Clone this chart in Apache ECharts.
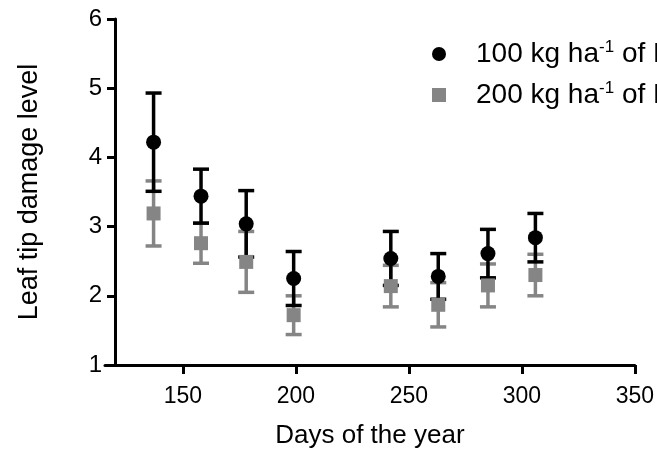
<!DOCTYPE html>
<html>
<head>
<meta charset="utf-8">
<script src="https://cdn.jsdelivr.net/npm/echarts@6.0.0/dist/echarts.min.js"></script>
<style>
  html, body { margin: 0; padding: 0; background: #fff; }
  #chart { width: 657px; height: 455px; }
</style>
</head>
<body>
<div id="chart"></div>
<script>
// days of the year
var days = [137, 158, 178, 199, 242, 263, 285, 306];
// 100 kg ha-1 of N : mean and error
var mean100 = [4.22, 3.44, 3.04, 2.25, 2.54, 2.28, 2.61, 2.84];
var err100 = [0.71, 0.39, 0.48, 0.39, 0.39, 0.33, 0.35, 0.35];
// 200 kg ha-1 of N : mean and error
var mean200 = [3.19, 2.76, 2.49, 1.72, 2.14, 1.87, 2.15, 2.30];
var err200 = [0.47, 0.29, 0.44, 0.28, 0.30, 0.32, 0.31, 0.30];
var xTicks = [150, 200, 250, 300, 350];

var FONT = "'Liberation Sans', Arial, sans-serif";
var BLACK = '#000000';
var GREY = '#858585';

function pts(m) {
  return days.map(function (d, i) { return [d, m[i]]; });
}
function bars(m, e) {
  return days.map(function (d, i) { return [d, m[i] - e[i], m[i] + e[i]]; });
}

// error bar: vertical line with caps
function errorBar(color) {
  return function (params, api) {
    var lo = api.coord([api.value(0), api.value(1)]);
    var hi = api.coord([api.value(0), api.value(2)]);
    var w = 8;
    var st = { stroke: color, lineWidth: 3.5 };
    return {
      type: 'group',
      children: [
        { type: 'line', shape: { x1: lo[0], y1: lo[1], x2: hi[0], y2: hi[1] }, style: st },
        { type: 'line', shape: { x1: lo[0] - w, y1: lo[1], x2: lo[0] + w, y2: lo[1] }, style: st },
        { type: 'line', shape: { x1: hi[0] - w, y1: hi[1], x2: hi[0] + w, y2: hi[1] }, style: st }
      ]
    };
  };
}

var chart = echarts.init(document.getElementById('chart'));

var legendRich = {
  p: { width: 25 },
  t: { fontFamily: FONT, fontSize: 28, color: '#000', lineHeight: 30 },
  s: { fontFamily: FONT, fontSize: 17, color: '#000', lineHeight: 17, verticalAlign: 'top' }
};

chart.setOption({
  animation: false,
  textStyle: { fontFamily: FONT },
  grid: { left: 105, right: 22, top: 19, bottom: 90 },
  legend: {
    orient: 'vertical',
    left: 427,
    top: 34,
    itemWidth: 14,
    itemHeight: 14,
    itemGap: 12,
    data: [
      { name: 'n100', icon: 'circle' },
      { name: 'n200', icon: 'rect' }
    ],
    formatter: function (name) {
      var v = name === 'n100' ? '100' : '200';
      return '{p|}{t|' + v + ' kg ha}{s|-1}{t| of N}';
    },
    textStyle: { rich: legendRich }
  },
  xAxis: {
    type: 'value',
    min: 115.5,
    max: 350,
    name: 'Days of the year',
    nameLocation: 'middle',
    nameGap: 58,
    nameTextStyle: { fontFamily: FONT, fontSize: 26, color: '#000' },
    splitLine: { show: false },
    axisLine: { lineStyle: { color: '#000', width: 3 } },
    axisTick: { length: 9, lineStyle: { color: '#000', width: 3 }, customValues: xTicks },
    axisLabel: { fontFamily: FONT, fontSize: 23, color: '#000', margin: 20, customValues: xTicks }
  },
  yAxis: {
    type: 'value',
    min: 1,
    max: 6,
    interval: 1,
    offset: -10,
    name: 'Leaf tip damage level',
    nameLocation: 'middle',
    nameRotate: 90,
    nameGap: 72,
    nameTextStyle: { fontFamily: FONT, fontSize: 27, color: '#000' },
    splitLine: { show: false },
    axisLine: { show: true, lineStyle: { color: '#000', width: 3 } },
    axisTick: { show: true, length: 8, lineStyle: { color: '#000', width: 3 } },
    axisLabel: { fontFamily: FONT, fontSize: 24, color: '#000', margin: 13 }
  },
  series: [
    {
      type: 'custom',
      name: 'err200',
      renderItem: errorBar(GREY),
      encode: { x: 0, y: [1, 2] },
      data: bars(mean200, err200),
      z: 2
    },
    {
      type: 'custom',
      name: 'err100',
      renderItem: errorBar(BLACK),
      encode: { x: 0, y: [1, 2] },
      data: bars(mean100, err100),
      z: 3
    },
    {
      type: 'scatter',
      name: 'n200',
      symbol: 'rect',
      symbolSize: 14,
      itemStyle: { color: GREY, opacity: 1 },
      data: pts(mean200),
      z: 4
    },
    {
      type: 'scatter',
      name: 'n100',
      symbol: 'circle',
      symbolSize: 15,
      itemStyle: { color: BLACK, opacity: 1 },
      data: pts(mean100),
      z: 5
    }
  ]
});
</script>
</body>
</html>
